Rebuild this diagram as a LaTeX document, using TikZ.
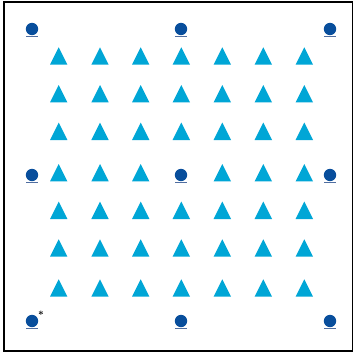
\documentclass[tikz,border=0pt]{standalone}
\definecolor{dotblue}{RGB}{8,78,156}
\definecolor{dotbase}{RGB}{80,110,160}
\definecolor{triblue}{RGB}{0,166,214}
\tikzset{
  frameline/.style={draw=black, line width=2pt},
  dotmark/.style={fill=dotblue},
  dotfoot/.style={draw=dotbase, line width=0.9pt},
  trimark/.style={fill=triblue},
}
\begin{document}
\begin{tikzpicture}[x=1pt,y=-1pt]
\useasboundingbox (0,0) rectangle (353,356);
\fill[white] (0,0) rectangle (353,356);
\draw[frameline] (4,1.5) -- (352.5,1.5) -- (352.5,350.5) -- (4,350.5) -- cycle;
% triangles
\foreach \cx in {58.7,100,140.7,181.3,222.3,263.3,304.3}{
  \foreach \cy in {56,93.7,131.3,172.7,210.3,248,288}{
    \pgfmathsetmacro{\skip}{(abs(\cx-181.3)<1 && abs(\cy-172.7)<1) ? 1 : 0}
    \ifdim\skip pt<0.5pt
      \fill[trimark] (\cx-8.7,\cy+8.7) -- (\cx,\cy-8.7) -- (\cx+8.7,\cy+8.7) -- cycle;
    \fi
  }
}
% circles
\foreach \cx/\cy [count=\i] in {32/29,181/29,330/29,32/175,181/175,330/175,32/321,181/321,330/321}{
  \coordinate (d\i) at (\cx,\cy);
  \fill[dotmark] (d\i) circle[radius=6.2];
  \draw[dotfoot] ([xshift=-6pt,yshift=-7pt]d\i) -- ([xshift=6pt,yshift=-7pt]d\i);
}
\node[font=\normalsize\bfseries, inner sep=0pt] (ast) at (41,315) {*};
\end{tikzpicture}
\end{document}
